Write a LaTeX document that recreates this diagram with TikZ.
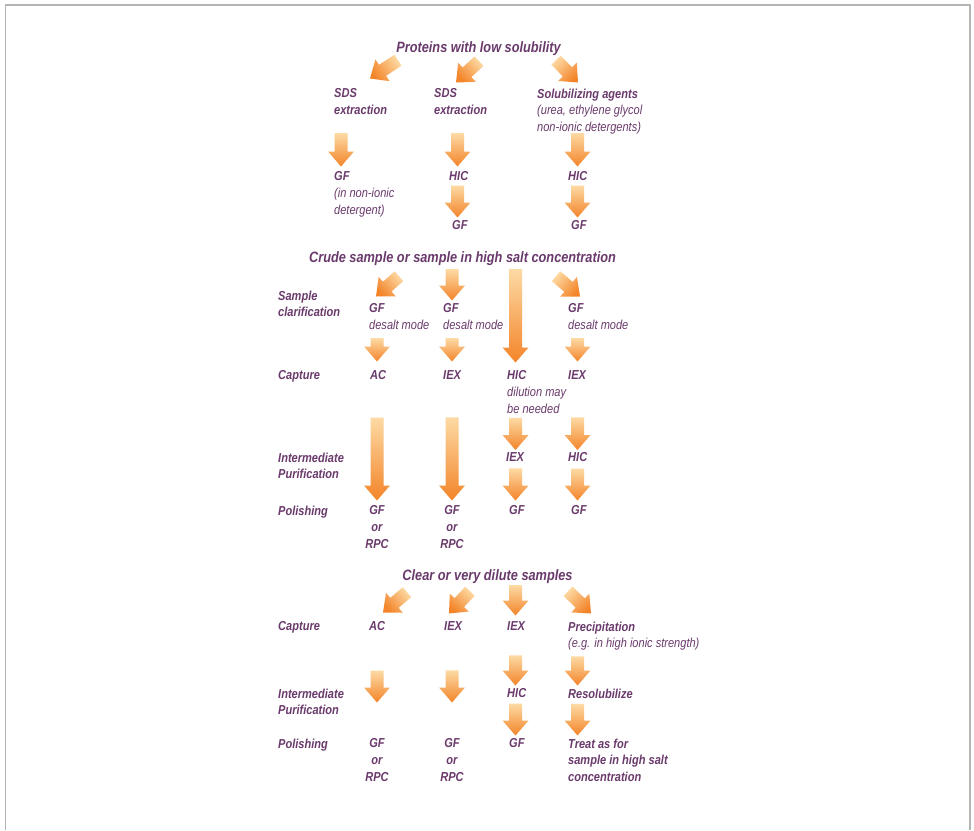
\documentclass[tikz,border=0pt]{standalone}
\usepackage{fontspec}
\setmainfont{Liberation Sans}[FakeStretch=0.85]
\usepackage{tikz}
\usetikzlibrary{calc}
\definecolor{Plum}{HTML}{6A3A6C}
\definecolor{FlowLight}{HTML}{FDDAA4}
\definecolor{FlowDark}{HTML}{F38429}
\definecolor{FrameGray}{HTML}{B4B4B4}
\newcommand\bodyfont{\fontsize{13}{16.7}\selectfont\itshape\bfseries}
\newcommand\headfont{\fontsize{15}{18}\selectfont\itshape\bfseries}
\newcommand\flowshaft{6.5pt}
\newcommand\flowwing{13pt}
\newcommand\flowhead{15pt}
\tikzset{
  stage/.style={anchor=north west,inner sep=0pt,align=left,text=Plum,font=\bodyfont},
  stagec/.style={stage,anchor=north,align=center},
  head/.style={anchor=base,inner sep=0pt,text=Plum,font=\headfont},
  flowfill/.style={top color=FlowDark,bottom color=FlowLight},
  frame/.style={draw=FrameGray,line width=1.2pt}
}
\newcommand\flowarrow[2]{%
  \path #1 coordinate (fa) #2 coordinate (fb);
  \pgfmathanglebetweenpoints{\pgfpointanchor{fa}{center}}{\pgfpointanchor{fb}{center}}%
  \pgfmathsetmacro\flowang{\pgfmathresult-90}%
  \coordinate (fh) at ($(fb)!\flowhead!(fa)$);
  \shade[flowfill,shading angle=\flowang] ($(fa)!\flowshaft!90:(fb)$) -- ($(fh)!\flowshaft!90:(fb)$)
    -- ($(fh)!\flowwing!90:(fb)$) -- (fb) -- ($(fh)!\flowwing!-90:(fb)$)
    -- ($(fh)!\flowshaft!-90:(fb)$) -- ($(fa)!\flowshaft!-90:(fb)$) -- cycle;%
}

\begin{document}
\begin{tikzpicture}[x=1pt,y=-1pt]
  \useasboundingbox (0,0) rectangle (974,830);
  \fill[white] (0,0) rectangle (974,830);
  \draw[frame] (5.5,830) -- (5.5,5) -- (970,5) -- (970,830);

  \node[head] (lowsol) at (478.5,52.4) {Proteins with low solubility};
  \node[stage] (sdsL) at (334,88.5) {SDS\\extraction};
  \node[stage] (sdsM) at (434,88.5) {SDS\\extraction};
  \node[stage] (solub) at (537,88.5) {Solubilizing agents\\{\mdseries(urea, ethylene glycol}\\{\mdseries non-ionic detergents)}};
  \node[stage] (gfdet) at (334,171.5) {GF\\{\mdseries(in non-ionic}\\{\mdseries detergent)}};
  \node[stage] (hicM) at (449,171.5) {HIC};
  \node[stage] (hicR) at (568,171.5) {HIC};
  \node[stage] (gfM) at (452,220.5) {GF};
  \node[stage] (gfR) at (571,220.5) {GF};
  \flowarrow{($(lowsol.south)+(-80.5,4.5)$)}{($(sdsL.north west)+(36,-10)$)}
  \flowarrow{($(lowsol.south)+(0.5,5.5)$)}{($(sdsM.north west)+(22,-6)$)}
  \flowarrow{($(lowsol.south)+(77.5,4.5)$)}{($(solub.north west)+(41,-6)$)}
  \flowarrow{($(sdsL.south west)+(7,18.4)$)}{($(gfdet.north west)+(7,-5)$)}
  \flowarrow{($(sdsM.south west)+(23.5,18.4)$)}{($(hicM.north west)+(8.5,-5)$)}
  \flowarrow{($(solub.south west)+(40.5,-1.4)$)}{($(hicR.north west)+(9.5,-5)$)}
  \flowarrow{($(hicM.south west)+(8.5,4.4)$)}{($(gfM.north west)+(5.5,-3)$)}
  \flowarrow{($(hicR.south west)+(9.5,4.4)$)}{($(gfR.north west)+(6.5,-3)$)}

  \node[head] (crude) at (462.5,262.4) {Crude sample or sample in high salt concentration};
  \node[stage] (lblClar) at (278,290.5) {Sample\\clarification};
  \node[stage] (desalt1) at (369,303.5) {GF\\{\mdseries desalt mode}};
  \node[stage] (desalt2) at (443,303.5) {GF\\{\mdseries desalt mode}};
  \node[stage] (desalt4) at (568,303.5) {GF\\{\mdseries desalt mode}};
  \node[stage] (lblCap) at (278,370.5) {Capture};
  \node[stage] (cap1) at (370,370.5) {AC};
  \node[stage] (cap2) at (443,370.5) {IEX};
  \node[stage] (cap3) at (507,370.5) {HIC\\{\mdseries dilution may}\\{\mdseries be needed}};
  \node[stage] (cap4) at (568,370.5) {IEX};
  \node[stage] (lblInt) at (278,452.5) {Intermediate\\Purification};
  \node[stage] (int3) at (506,452.5) {IEX};
  \node[stage] (int4) at (568,452.5) {HIC};
  \node[stage] (lblPol) at (278,505.5) {Polishing};
  \node[stagec] (pol1) at (377,505.5) {GF\\or\\RPC};
  \node[stagec] (pol2) at (452,505.5) {GF\\or\\RPC};
  \node[stage] (pol3) at (509,505.5) {GF};
  \node[stage] (pol4) at (571,505.5) {GF};
  \flowarrow{($(crude.south)+(-63.5,10.5)$)}{($(desalt1.north west)+(7,-7)$)}
  \flowarrow{($(crude.south)+(-10.5,3.5)$)}{($(desalt2.north west)+(9,-3)$)}
  \flowarrow{($(crude.south)+(53,3.5)$)}{($(cap3.north west)+(8.5,-8)$)}
  \flowarrow{($(crude.south)+(93.5,10.5)$)}{($(desalt4.north west)+(12,-7)$)}
  \flowarrow{($(desalt1.south west)+(8,8.4)$)}{($(cap1.north west)+(7,-9)$)}
  \flowarrow{($(desalt2.south west)+(9,8.4)$)}{($(cap2.north west)+(9,-9)$)}
  \flowarrow{($(desalt4.south west)+(9.5,8.4)$)}{($(cap4.north west)+(9.5,-9)$)}
  \flowarrow{($(cap1.south west)+(7,37.4)$)}{($(pol1.north)+(0,-5)$)}
  \flowarrow{($(cap2.south west)+(9,37.4)$)}{($(pol2.north)+(0,-5)$)}
  \flowarrow{($(cap3.south west)+(8.5,4.4)$)}{($(int3.north west)+(9.5,-2.5)$)}
  \flowarrow{($(cap4.south west)+(9.5,37.4)$)}{($(int4.north west)+(9.5,-2.5)$)}
  \flowarrow{($(int3.south west)+(9.5,6.4)$)}{($(pol3.north west)+(6.5,-5)$)}
  \flowarrow{($(int4.south west)+(9.5,6.4)$)}{($(pol4.north west)+(6.5,-5)$)}

  \node[head] (dilute) at (487.5,580.4) {Clear or very dilute samples};
  \node[stage] (lblCapB) at (278,621.5) {Capture};
  \node[stage] (capB1) at (369,621.5) {AC};
  \node[stage] (capB2) at (444,621.5) {IEX};
  \node[stage] (capB3) at (507,621.5) {IEX};
  \node[stage] (capB4) at (568,621.5) {Precipitation\\{\mdseries(e.g. in high ionic strength)}};
  \node[stage] (lblIntB) at (278,688.5) {Intermediate\\Purification};
  \node[stage] (intB3) at (507,688.5) {HIC};
  \node[stage] (intB4) at (568,688.5) {Resolubilize};
  \node[stage] (lblPolB) at (278,738.5) {Polishing};
  \node[stagec] (polB1) at (377,738.5) {GF\\or\\RPC};
  \node[stagec] (polB2) at (452,738.5) {GF\\or\\RPC};
  \node[stage] (polB3) at (509,738.5) {GF};
  \node[stage] (polB4) at (568,738.5) {Treat as for\\sample in high salt\\concentration};
  \flowarrow{($(dilute.south)+(-80.5,8.5)$)}{($(capB1.north west)+(14,-9)$)}
  \flowarrow{($(dilute.south)+(-17.5,7.5)$)}{($(capB2.north west)+(5,-8)$)}
  \flowarrow{($(dilute.south)+(28,1.5)$)}{($(capB3.north west)+(8.5,-6)$)}
  \flowarrow{($(dilute.south)+(80.5,7.5)$)}{($(capB4.north west)+(23,-8)$)}
  \flowarrow{($(capB1.south west)+(8,39.4)$)}{($(polB1.north)+(0,-36)$)}
  \flowarrow{($(capB2.south west)+(8,39.4)$)}{($(polB2.north)+(0,-36)$)}
  \flowarrow{($(capB3.south west)+(8.5,24.4)$)}{($(intB3.north west)+(8.5,-3)$)}
  \flowarrow{($(capB4.south west)+(9.5,5.6)$)}{($(intB4.north west)+(9.5,-3)$)}
  \flowarrow{($(intB3.south west)+(8.5,5.4)$)}{($(polB3.north west)+(6.5,-3)$)}
  \flowarrow{($(intB4.south west)+(9.5,5.4)$)}{($(polB4.north west)+(9.5,-3)$)}
\end{tikzpicture}
\end{document}
